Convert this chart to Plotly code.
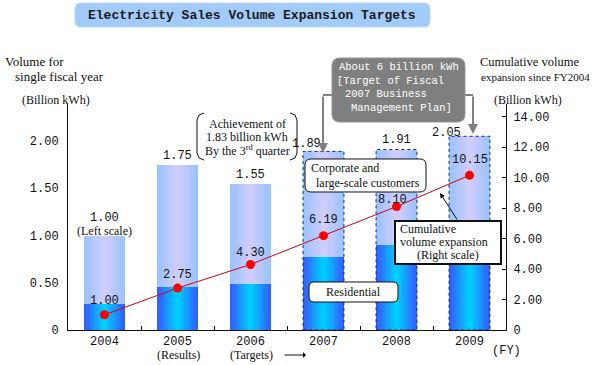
import plotly.graph_objects as go

# ---------------- data ----------------
years = ["2004", "2005", "2006", "2007", "2008", "2009"]
residential = [0.27, 0.45, 0.49, 0.77, 0.90, 1.00]
total_volume = [1.00, 1.75, 1.55, 1.89, 1.91, 2.05]
total_labels = ["1.00", "1.75", "1.55", "1.89", "1.91", "2.05"]
cumulative = [1.00, 2.75, 4.30, 6.19, 8.10, 10.15]
cumulative_labels = ["1.00", "2.75", "4.30", "6.19", "8.10", "10.15"]
left_ticks = [0, 0.5, 1.0, 1.5, 2.0]
left_ticktext = ["0", "0.50", "1.00", "1.50", "2.00"]
right_ticks = [0, 2, 4, 6, 8, 10, 12, 14]
right_ticktext = ["0", "2.00", "4.00", "6.00", "8.00", "10.00", "12.00", "14.00"]
target_years = ["2007", "2008", "2009"]

# ---------------- layout geometry (pixels) ----------------
W, H = 594, 365
PL, PR, PT, PB = 68, 506, 104, 330
def px(x):
    return (x - PL) / (PR - PL)
def py(y):
    return (PB - y) / (PB - PT)

SERIF = "Liberation Serif"
MONO = "Liberation Mono"

fig = go.Figure()

# gradient bars approximated by nested overlaid bars
BAR_W = 0.56
N = 9
def lerp(c1, c2, t):
    return "rgb(%d,%d,%d)" % tuple(round(a + (b - a) * t) for a, b in zip(c1, c2))

corp = [t - r for t, r in zip(total_volume, residential)]
for k in range(N):
    t = k / (N - 1)
    w = BAR_W * (1 - k / N)
    fig.add_trace(go.Bar(x=years, y=residential, base=[0] * len(years), width=w,
                         marker=dict(color=lerp((50, 95, 255), (0, 205, 255), t), line=dict(width=0)),
                         hoverinfo="skip", showlegend=False))
for k in range(N):
    t = k / (N - 1)
    w = BAR_W * (1 - k / N)
    fig.add_trace(go.Bar(x=years, y=corp, base=residential, width=w,
                         marker=dict(color=lerp((155, 195, 255), (206, 204, 250), t), line=dict(width=0)),
                         hoverinfo="skip", showlegend=False))

# cumulative line (right axis)
fig.add_trace(go.Scatter(x=years, y=cumulative, yaxis="y2", mode="lines+markers",
                         line=dict(color="#d00010", width=1),
                         marker=dict(color="#ff0000", size=9),
                         hoverinfo="skip", showlegend=False, cliponaxis=False))

shapes = []
annotations = []

# cumulative value labels (x as category serial index)
cum_xshift = [0, 0, 0, 0, -4, 0]
cum_yshift = [5, 4, 2, 7, -2, 6]
for i in range(len(years)):
    annotations.append(dict(x=i, y=cumulative[i], xref="x", yref="y2", text=cumulative_labels[i],
                            showarrow=False, yanchor="bottom", xshift=cum_xshift[i],
                            yshift=cum_yshift[i], font=dict(family=MONO, size=12, color="#111")))

# dotted borders for target years
for i, yv in enumerate(years):
    if yv in target_years:
        shapes.append(dict(type="rect", xref="x", yref="y", x0=i - BAR_W / 2, x1=i + BAR_W / 2,
                           y0=0, y1=total_volume[i], line=dict(color="#1a2a80", width=1, dash="dot"),
                           layer="above"))

# bar total labels
label_xshift = [0, 0, 0, -17, 0, -23]
label_yshift = [9, 0, 0, -2, 1, -6]
for i in range(len(years)):
    annotations.append(dict(x=i, y=total_volume[i], xref="x", yref="y", text=total_labels[i],
                            showarrow=False, yanchor="bottom", xshift=label_xshift[i],
                            yshift=label_yshift[i], font=dict(family=MONO, size=12, color="#111")))
annotations.append(dict(x=0, y=total_volume[0], xref="x", yref="y", text="(Left scale)",
                        showarrow=False, yanchor="bottom", yshift=-4,
                        font=dict(family=SERIF, size=12, color="#111")))

def rrect(x0, y0, x1, y1, r):
    def P(x, y):
        return "%.5f,%.5f" % (px(x), py(y))
    return ("M%s L%s Q%s %s L%s Q%s %s L%s Q%s %s L%s Q%s %s Z" % (
        P(x0 + r, y0), P(x1 - r, y0), P(x1, y0), P(x1, y0 + r), P(x1, y1 - r),
        P(x1, y1), P(x1 - r, y1), P(x0 + r, y1), P(x0, y1), P(x0, y1 - r),
        P(x0, y0 + r), P(x0, y0), P(x0 + r, y0)))

def ptext(x, y, text, size=12, family=SERIF, color="#111", anchor="left", **kw):
    annotations.append(dict(x=px(x), y=py(y), xref="paper", yref="paper", text=text,
                            showarrow=False, xanchor=anchor, yanchor="middle",
                            font=dict(family=family, size=size, color=color), **kw))

def pline(points, color, width):
    path = "M" + " L".join("%.5f,%.5f" % (px(a), py(b)) for a, b in points)
    shapes.append(dict(type="path", xref="paper", yref="paper", path=path,
                       line=dict(color=color, width=width)))

# title
shapes.append(dict(type="path", xref="paper", yref="paper", path=rrect(75, 3, 430, 27, 6),
                   fillcolor="#a2cbfa", line=dict(color="#b8d8fb", width=1)))
ptext(252, 15.5, "<b>Electricity Sales Volume Expansion Targets</b>", size=13, family=MONO,
      color="#1a1a1a", anchor="center")

# axis titles
ptext(3, 62, "Volume for", 13)
ptext(13, 77, "single fiscal year", 13)
ptext(20, 100, "(Billion kWh)", 12)
ptext(478, 62, "Cumulative volume", 12.5)
ptext(479, 77, "expansion since FY2004", 11)
ptext(492, 100, "(Billion kWh)", 12)

# gray callout box with connectors
pline([(333, 95), (323, 95)], "#808080", 2)
pline([(465, 95), (473, 95)], "#808080", 2)
annotations.append(dict(x=px(323), y=py(153), xref="paper", yref="paper", ax=0, ay=-58,
                        axref="pixel", ayref="pixel", text="", showarrow=True,
                        arrowhead=2, arrowsize=1, arrowwidth=2, arrowcolor="#808080"))
annotations.append(dict(x=px(473), y=py(134), xref="paper", yref="paper", ax=0, ay=-39,
                        axref="pixel", ayref="pixel", text="", showarrow=True,
                        arrowhead=2, arrowsize=1, arrowwidth=2, arrowcolor="#808080"))
shapes.append(dict(type="path", xref="paper", yref="paper", path=rrect(332, 58, 465, 122, 8),
                   fillcolor="#7f7f7f", line=dict(color="#959595", width=1)))
ptext(337, 67, "About 6 billion kWh", 10.5, MONO, "white")
ptext(335, 81, "[Target of Fiscal", 10.5, MONO, "white")
ptext(343, 94, "2007 Business", 10.5, MONO, "white")
ptext(349, 108, "Management Plan]", 10.5, MONO, "white")

# achievement bracket note
pline([(204, 113), (199, 115), (197, 120), (197, 153), (199, 158), (204, 160)], "#111", 1)
pline([(290, 113), (295, 115), (297, 120), (297, 153), (295, 158), (290, 160)], "#111", 1)
ptext(247, 124, "Achievement of", 12, anchor="center")
ptext(247, 137, "1.83 billion kWh", 12, anchor="center")
ptext(247, 150, "By the 3<sup>rd</sup> quarter", 12, anchor="center")

# corporate box
shapes.append(dict(type="path", xref="paper", yref="paper", path=rrect(305, 159, 426, 192, 6),
                   fillcolor="white", line=dict(color="#111", width=1)))
ptext(309, 168, "Corporate and", 12)
ptext(314, 183, "large-scale customers", 12)

# residential box
shapes.append(dict(type="path", xref="paper", yref="paper", path=rrect(309, 282, 398, 302, 5),
                   fillcolor="white", line=dict(color="#111", width=1)))
ptext(353, 292, "Residential", 12, anchor="center")

# cumulative box + arrow
annotations.append(dict(x=px(440), y=py(193), xref="paper", yref="paper", ax=18, ay=28,
                        axref="pixel", ayref="pixel", text="", showarrow=True,
                        arrowhead=2, arrowsize=1, arrowwidth=1, arrowcolor="#111"))
shapes.append(dict(type="rect", xref="paper", yref="paper", x0=px(395), x1=px(501),
                   y0=py(264), y1=py(221), fillcolor="white", line=dict(color="#111", width=2)))
ptext(398, 229, "Cumulative", 12)
ptext(398, 242, "volume expansion", 12)
ptext(415, 255, "(Right scale)", 12)

# x-axis extra labels
ptext(178, 355, "(Results)", 12, anchor="center")
ptext(251, 355, "(Targets)", 12, anchor="center")
annotations.append(dict(x=px(306), y=py(355), xref="paper", yref="paper", ax=-23, ay=0,
                        axref="pixel", ayref="pixel", text="", showarrow=True,
                        arrowhead=1, arrowsize=1, arrowwidth=1, arrowcolor="#111"))
ptext(506, 351, "(FY)", 12, MONO, anchor="center")

fig.update_layout(
    template="none",
    width=W, height=H, autosize=False,
    margin=dict(l=PL, r=W - PR, t=PT, b=H - PB, pad=0),
    paper_bgcolor="white", plot_bgcolor="white",
    barmode="overlay", bargap=0,
    xaxis=dict(type="category", categoryorder="array", categoryarray=years, automargin=False,
               showline=True, linecolor="#111", linewidth=1, ticks="inside", ticklen=4,
               tickcolor="#111", tickson="boundaries", showgrid=False, zeroline=False,
               tickfont=dict(family=MONO, size=12, color="#111"), range=[-0.5, 5.5]),
    yaxis=dict(range=[0, (PB - PT) / 94.5], tickvals=left_ticks, ticktext=left_ticktext,
               automargin=False,
               showline=True, linecolor="#111", linewidth=1, ticks="", showgrid=False,
               zeroline=False, ticklabelstandoff=6,
               tickfont=dict(family=MONO, size=12, color="#111")),
    yaxis2=dict(range=[0, (PB - PT) / 15.24], tickvals=right_ticks, ticktext=right_ticktext,
                automargin=False,
                overlaying="y", side="right", showline=True, linecolor="#111", linewidth=1,
                ticks="inside", ticklen=4, tickcolor="#111", showgrid=False, zeroline=False,
                ticklabelstandoff=4,
                tickfont=dict(family=MONO, size=12, color="#111")),
    shapes=shapes, annotations=annotations,
)

fig.write_html("out.html", config={"displayModeBar": False},
               post_script="document.body.style.margin='0';document.body.style.padding='0';")
